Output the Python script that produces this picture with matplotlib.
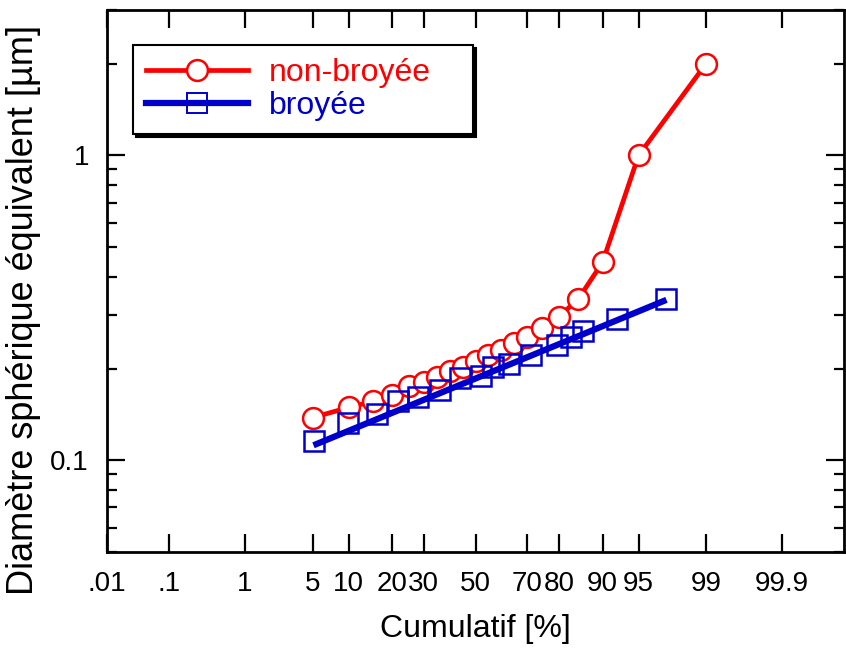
import numpy as np
import matplotlib
matplotlib.use("Agg")
import matplotlib.pyplot as plt
from matplotlib.lines import Line2D
from statistics import NormalDist

plt.rcParams['font.family'] = ['Liberation Sans', 'DejaVu Sans']

# non-broyee: cumulative % vs diameter (um)
cum_nb = [5, 10, 15, 20, 25, 30, 35, 40, 45, 50, 55, 60, 65, 70, 75, 80, 85, 90, 95, 99]
d_nb = [0.138, 0.149, 0.156, 0.164, 0.175, 0.181, 0.188, 0.196, 0.203, 0.212,
        0.221, 0.230, 0.242, 0.254, 0.271, 0.296, 0.338, 0.446, 1.0, 2.0]

# broyee
cum_b = [5.1, 9.9, 15.9, 21.7, 28.1, 36.1, 43.6, 52.3, 56.9, 63.4, 71.3, 79.4,
         83.2, 86.0, 92.3, 97.3]
d_b = [0.116, 0.133, 0.142, 0.156, 0.161, 0.170, 0.186, 0.189, 0.203, 0.207,
       0.221, 0.239, 0.254, 0.265, 0.290, 0.337]

# fitted line for broyee (end points)
fit_cum = [5.1, 97.3]
fit_d = [0.112, 0.336]

tick_pos = [0.01, 0.1, 1, 5, 10, 20, 30, 50, 70, 80, 90, 95, 99, 99.9]
tick_lab = ['.01', '.1', '1', '5', '10', '20', '30', '50', '70', '80', '90', '95', '99', '99.9']

red = '#ff0000'
blue = '#0000cc'

_nd = NormalDist()
_ppf = np.vectorize(lambda p: _nd.inv_cdf(p), otypes=[float])
_cdf = np.vectorize(lambda z: _nd.cdf(z), otypes=[float])


def prob_fwd(p):
    p = np.clip(np.asarray(p, dtype=float) / 100.0, 1e-9, 1 - 1e-9)
    return _ppf(p)


def prob_inv(z):
    return _cdf(np.asarray(z, dtype=float)) * 100.0


fig = plt.figure(figsize=(8.46, 6.48), dpi=100)
ax = fig.add_axes([0.1265, 0.1481, 0.8712, 0.8364])
ax.set_xscale('function', functions=(prob_fwd, prob_inv))
ax.set_yscale('log')

ax.plot(cum_nb, d_nb, color=red, lw=3.4, marker='o', ms=15, mfc='white',
        mec=red, mew=1.8, zorder=3)

ax.plot(fit_cum, fit_d, color=blue, lw=4.5, solid_capstyle='butt', zorder=5)
ax.plot(cum_b, d_b, ls='none', marker='s', ms=15, mfc='none', mec=blue,
        mew=1.8, zorder=4)

ax.set_xlim(0.01, 99.99)
ax.set_ylim(0.05, 3)
ax.set_xticks(tick_pos)
ax.set_xticklabels(tick_lab)
ax.xaxis.set_minor_locator(matplotlib.ticker.NullLocator())
ax.set_yticks([0.1, 1])
ax.set_yticklabels(['0.1', '1'])
ax.yaxis.set_minor_locator(matplotlib.ticker.LogLocator(base=10, subs=np.arange(2, 10)))
ax.yaxis.set_minor_formatter(matplotlib.ticker.NullFormatter())

ax.tick_params(axis='both', which='major', direction='in', top=True, right=True,
               length=13, width=1.6, labelsize=20)
ax.tick_params(axis='y', which='major', pad=13)
ax.tick_params(axis='x', which='major', pad=14)
ax.tick_params(axis='y', which='minor', direction='in', right=True,
               length=7, width=1.6)
for s in ax.spines.values():
    s.set_linewidth(2)

ax.set_xlabel('Cumulatif [%]', fontsize=23, labelpad=12)
ax.set_ylabel('Diamètre sphérique équivalent [µm]', fontsize=26)
ax.yaxis.set_label_coords(-0.09, 0.447)

handles = [
    Line2D([], [], color=red, lw=3.4, marker='o', ms=15, mfc='white', mec=red, mew=1.8),
    Line2D([], [], color=blue, lw=4.5, marker='s', ms=15, mfc='none', mec=blue, mew=1.4),
]
leg = ax.legend(handles, ['non-broyée', 'broyée'], loc='upper left',
                bbox_to_anchor=(0.0353, 0.769, 0.4613, 0.166), mode='expand',
                borderaxespad=0, fontsize=23,
                handlelength=3.2, handletextpad=0.65, labelspacing=0.1,
                borderpad=0.4, fancybox=False, framealpha=1,
                shadow={'color': 'black', 'alpha': 1})
leg.get_frame().set_edgecolor('black')
leg.get_frame().set_linewidth(1.5)
for t, c in zip(leg.get_texts(), [red, blue]):
    t.set_color(c)

fig.savefig('out.png', dpi=100)
